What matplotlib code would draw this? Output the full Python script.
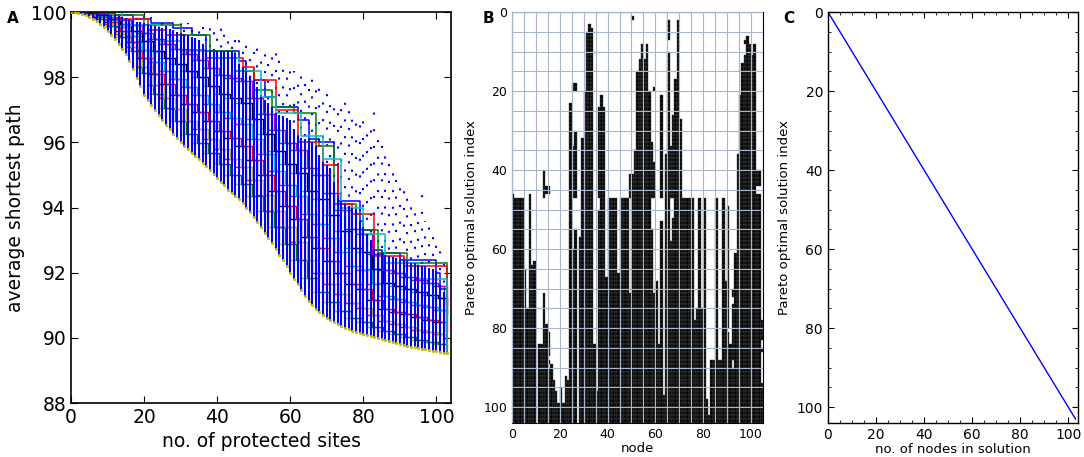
import numpy as np
import matplotlib
matplotlib.use("Agg")
import matplotlib.pyplot as plt
from matplotlib.patches import Rectangle
from matplotlib.collections import PatchCollection

# ---------------- Panel A data ----------------
sites = list(range(104))
# lower edge of the cloud (Pareto front)
lower = [100.0, 99.99, 99.97, 99.94, 99.9, 99.85, 99.79, 99.72, 99.64, 99.55,
         99.42, 99.3, 99.17, 99.03, 98.88, 98.7, 98.5, 98.25, 97.98, 97.72,
         97.47, 97.3, 97.14, 96.98, 96.83, 96.68, 96.54, 96.4, 96.26, 96.13,
         96.0, 95.9, 95.79, 95.69, 95.59, 95.49, 95.38, 95.27, 95.15, 95.03,
         94.92, 94.8, 94.68, 94.55, 94.45, 94.36, 94.27, 94.14, 94.0, 93.85,
         93.7, 93.55, 93.39, 93.22, 93.06, 92.9, 92.73, 92.55, 92.38, 92.2,
         92.0, 91.82, 91.64, 91.46, 91.28, 91.12, 91.0, 90.9, 90.8, 90.71,
         90.62, 90.55, 90.49, 90.43, 90.37, 90.31, 90.26, 90.22, 90.18, 90.15,
         90.12, 90.08, 90.05, 90.02, 89.99, 89.96, 89.93, 89.9, 89.87, 89.84,
         89.81, 89.78, 89.75, 89.73, 89.71, 89.69, 89.67, 89.65, 89.63, 89.61,
         89.59, 89.57, 89.55, 89.53]
# top of the dense blue band
upper = [100.0, 100.0, 100.0, 100.0, 99.99, 99.98, 99.97, 99.96, 99.95, 99.94,
         99.93, 99.92, 99.9, 99.88, 99.85, 99.82, 99.8, 99.75, 99.7, 99.68,
         99.65, 99.62, 99.6, 99.57, 99.55, 99.52, 99.5, 99.47, 99.44, 99.4,
         99.37, 99.33, 99.3, 99.25, 99.2, 99.15, 99.0, 98.85, 98.83, 98.82,
         98.8, 98.8, 98.8, 98.8, 98.8, 98.75, 98.4, 98.3, 98.2, 98.0,
         97.9, 97.7, 97.4, 97.3, 97.2, 97.1, 96.9, 96.85, 96.8, 96.75,
         96.7, 96.4, 96.2, 96.15, 96.1, 96.05, 96.0, 95.9, 95.6, 95.4,
         95.3, 95.2, 94.8, 94.4, 94.2, 94.1, 94.05, 94.0, 93.95, 93.6,
         93.4, 93.2, 93.0, 92.7, 92.6, 92.6, 92.55, 92.5, 92.45, 92.45,
         92.4, 92.4, 92.35, 92.3, 92.3, 92.25, 92.2, 92.2, 92.15, 92.1,
         92.05, 91.6, 91.4, 89.53]
# highest scattered single solutions per site count
dot_top = [100.0, 100.0, 100.0, 100.0, 99.99, 99.98, 99.97, 99.96, 99.95, 99.94,
           99.93, 99.92, 99.9, 99.88, 99.85, 99.95, 99.95, 99.95, 99.9, 99.9,
           99.9, 99.9, 99.85, 99.85, 99.8, 99.8, 99.8, 99.75, 99.75, 99.7,
           99.7, 99.7, 99.65, 99.65, 99.6, 99.6, 99.55, 99.6, 99.55, 99.5,
           99.6, 99.55, 99.45, 99.4, 99.3, 99.5, 99.3, 99.2, 99.1, 99.0,
           99.0, 98.95, 98.9, 98.85, 98.8, 98.8, 98.75, 98.6, 98.5, 98.4,
           98.3, 98.2, 98.0, 98.05, 98.0, 97.9, 98.2, 97.8, 97.7, 97.6,
           97.6, 97.4, 97.3, 97.2, 97.1, 97.3, 97.0, 96.9, 96.8, 96.8,
           96.9, 96.6, 96.4, 97.2, 96.4, 96.0, 95.6, 95.5, 95.3, 95.2,
           95.0, 94.8, 94.6, 94.4, 93.9, 93.8, 94.4, 93.6, 93.5, 93.2,
           92.9, 92.8, 92.6, 89.53]

# staircase fronts of individual runs inside the band: break x and level y
step_x = [0, 3, 6, 9, 12, 15, 18, 21, 24, 27, 30, 33, 36, 39, 42, 45, 48, 51,
          54, 57, 60, 63, 66, 69, 72, 75, 78, 81, 84, 87, 90, 93, 96, 99, 102]
step_x_late = [0, 4.5, 7.5, 10.5, 13.5, 16.5, 19.5, 22.5, 25.5, 28.5, 31.5, 34.5,
               37.5, 40.5, 43.5, 46.5, 49.5, 52.5, 55.5, 58.5, 61.5, 64.5, 67.5,
               70.5, 73.5, 76.5, 79.5, 82.5, 85.5, 88.5, 91.5, 94.5, 97.5, 100.5, 103]
levels = [
    [100, 99.94, 99.80, 99.58, 99.23, 98.79, 98.12, 97.49, 97.05, 96.65, 96.27, 95.97,
     95.67, 95.33, 95.01, 94.71, 94.34, 93.88, 93.39, 92.89, 92.38, 91.84, 91.4, 91.09,
     90.83, 90.61, 90.48, 90.33, 90.2, 90.11, 90.02, 89.94, 89.87, 89.81, 89.7],
    [100, 99.95, 99.83, 99.63, 99.32, 98.92, 98.32, 97.76, 97.37, 97.01, 96.67, 96.4,
     96.1, 95.79, 95.5, 95.24, 94.84, 94.38, 93.89, 93.41, 92.94, 92.4, 92.0, 91.65,
     91.35, 91.07, 90.93, 90.7, 90.51, 90.42, 90.33, 90.24, 90.18, 90.11, 89.92],
    [100, 99.96, 99.85, 99.69, 99.43, 99.09, 98.58, 98.11, 97.78, 97.47, 97.18, 96.94,
     96.65, 96.36, 96.12, 95.9, 95.47, 95.0, 94.51, 94.06, 93.65, 93.1, 92.75, 92.35,
     92.0, 91.64, 91.5, 91.17, 90.9, 90.81, 90.72, 90.63, 90.56, 90.48, 90.2],
    [100, 99.97, 99.88, 99.75, 99.54, 99.26, 98.84, 98.46, 98.19, 97.94, 97.69, 97.47,
     97.19, 96.93, 96.74, 96.56, 96.1, 95.63, 95.13, 94.7, 94.35, 93.81, 93.5, 93.06,
     92.65, 92.2, 92.07, 91.64, 91.3, 91.2, 91.11, 91.02, 90.94, 90.86, 90.48],
    [100, 99.98, 99.91, 99.8, 99.64, 99.43, 99.1, 98.81, 98.6, 98.4, 98.19, 98.0,
     97.73, 97.49, 97.36, 97.21, 96.73, 96.25, 95.75, 95.35, 95.06, 94.51, 94.25, 93.76,
     93.29, 92.77, 92.63, 92.11, 91.69, 91.59, 91.49, 91.4, 91.31, 91.23, 90.75],
    [100, 99.99, 99.93, 99.86, 99.75, 99.6, 99.36, 99.16, 99.01, 98.86, 98.7, 98.54,
     98.28, 98.06, 97.98, 97.87, 97.36, 96.87, 96.37, 95.99, 95.76, 95.21, 95.0, 94.46,
     93.94, 93.34, 93.2, 92.58, 92.08, 91.98, 91.88, 91.79, 91.69, 91.6, 91.03],
]
level_colors = ["y", "r", "k", "m", "c", "g"]
level_colors_late = ["g", "y", "r", "c", "k", "m"]

# outer staircases seen against the white area
outer_stairs = [
    ("b", [0, 6, 12, 17, 22, 28, 33, 37, 46, 48, 50, 53, 56, 62, 65, 68, 72, 73, 79, 80, 83, 85, 90, 100, 101, 103],
          [100, 99.97, 99.9, 99.8, 99.65, 99.5, 99.3, 98.8, 98.5, 98.2, 97.9, 97.4, 97.1, 96.7, 96.1, 96.0, 95.3, 94.2, 93.6, 93.3, 92.7, 92.6, 92.4, 92.0, 91.5, 89.53]),
    ("g", [0, 10, 20, 30, 38, 45, 50, 55, 61, 67, 72, 78, 80, 84, 92, 103],
          [100, 99.9, 99.6, 99.3, 98.8, 98.2, 97.6, 97.1, 96.9, 95.9, 94.1, 93.8, 93.3, 92.6, 92.3, 89.53]),
    ("r", [0, 12, 21, 26, 31, 37, 47, 50, 56, 62, 68, 69, 73, 77, 83, 91, 103],
          [100, 99.8, 99.45, 99.3, 98.85, 98.6, 98.3, 97.9, 97.0, 96.0, 95.9, 95.3, 94.1, 93.8, 92.5, 92.2, 89.53]),
    ("c", [0, 14, 24, 30, 38, 46, 52, 56, 63, 69, 74, 80, 86, 95, 103],
          [100, 99.6, 99.1, 98.8, 98.6, 98.2, 97.4, 96.9, 96.2, 95.5, 94.0, 93.2, 92.3, 91.8, 89.53]),
]

# ---------------- Panel B data ----------------
n_solutions = 104
# first solution index in which each node is protected (104 = never)
node_start = [46, 47, 47, 47, 47, 65, 75, 46, 64, 63,
              104, 84, 84, 71, 79, 81, 89, 93, 96, 99,
              95, 99, 92, 93, 23, 34, 30, 104, 57, 32,
              20, 5, 3, 4, 84, 96, 24, 21, 24, 67,
              47, 47, 47, 47, 66, 47, 47, 47, 47, 41,
              41, 35, 15, 12, 8, 12, 8, 20, 33, 38,
              68, 84, 21, 97, 36, 2, 34, 26, 17, 2,
              27, 47, 47, 47, 47, 47, 78, 75, 47, 75,
              47, 98, 102, 88, 88, 47, 88, 88, 47, 68,
              49, 84, 70, 61, 36, 21, 13, 11, 6, 8,
              11, 8, 40, 40, 78]
# solutions where a node drops out again (white holes)
node_gaps = {15: [(87, 88), (89, 90)], 25: [(47, 60)], 26: [(47, 55)], 36: [(47, 50)],
             49: [(47, 71)], 58: [(47, 55)], 59: [(47, 71)], 62: [(47, 53)],
             65: [(7, 10)], 66: [(47, 58)], 67: [(47, 52)], 90: [(80, 81)],
             92: [(72, 74), (88, 90)], 102: [(44, 46)], 103: [(44, 46)],
             104: [(83, 85), (86, 94)]}
# isolated early appearances (black specks)
node_islands = {13: [(40, 47)], 14: [(44, 46)], 15: [(44, 46)], 25: [(18, 20)],
                26: [(18, 20)], 50: [(1, 2)], 59: [(19, 20)], 97: [(7, 8)]}

# ---------------- Panel C data ----------------
solution_index = np.arange(n_solutions)
nodes_in_solution = solution_index.copy()  # solution i protects i nodes

plt.rcParams['font.family'] = ['DejaVu Sans']
plt.rcParams['xtick.direction'] = 'in'
plt.rcParams['ytick.direction'] = 'in'
plt.rcParams['xtick.top'] = True
plt.rcParams['ytick.right'] = True

fig = plt.figure(figsize=(10.84, 4.57), dpi=100)

# ---- A ----
axA = fig.add_axes([0.0655, 0.118, 0.3506, 0.8556])
# dotted columns for the scattered solutions, dash offsets varied so rows do not line up
offsets = [0, 3.1, 6.3, 1.2, 4.4, 7.0, 2.8, 5.6, 1.7, 4.9, 0.4, 3.5, 6.6]
dot_styles = [(offsets[i % len(offsets)], (1.0, 7.0)) for i in range(len(sites))]
axA.vlines(sites, upper, dot_top, colors='b', linestyles=dot_styles, lw=1.5, zorder=1)
for col, sy in zip(level_colors, levels):
    axA.step(step_x, sy, where='post', color=col, lw=1.0, zorder=2)
for col, sy in zip(level_colors_late, levels):
    axA.step(step_x_late, sy, where='post', color=col, lw=1.0, zorder=2)
for col, sx, sy in outer_stairs:
    axA.step(sx, sy, where='post', color=col, lw=1.1, zorder=2)
# blue risers of the last run drawn on top
axA.vlines(sites, lower, upper, colors='b', lw=1.5, zorder=3)
axA.plot(sites, lower, ls='none', marker='.', ms=2.5, color='y', zorder=4)
axA.set_xlim(0, 104)
axA.set_ylim(88, 100)
axA.set_xticks([0, 20, 40, 60, 80, 100])
axA.set_yticks([88, 90, 92, 94, 96, 98, 100])
axA.tick_params(labelsize=13.5, length=5, width=0.8)
axA.set_xlabel("no. of protected sites", fontsize=13.5)
axA.set_ylabel("average shortest path", fontsize=13.5, labelpad=4)
for s in axA.spines.values():
    s.set_linewidth(1.2)

# ---- B ----
M = np.zeros((n_solutions, len(node_start)))
for j, s in enumerate(node_start):
    M[s:, j] = 1
for j, gl in node_gaps.items():
    for r0, r1 in gl:
        M[r0:r1, j] = 0
for j, il in node_islands.items():
    for r0, r1 in il:
        M[r0:r1, j] = 1

axB = fig.add_axes([0.4723, 0.0744, 0.2315, 0.8993])
rows, cols = np.nonzero(M)
cells = [Rectangle((c, r), 1, 1) for r, c in zip(rows, cols)]
axB.add_collection(PatchCollection(cells, facecolor='black', edgecolor='#4a4a4a',
                                   linewidth=0.3, zorder=1))
axB.set_xlim(0, 105)
axB.set_ylim(104, 0)
axB.set_xticks([0, 20, 40, 60, 80, 100])
axB.set_yticks([0, 20, 40, 60, 80, 100])
axB.set_xticks(np.arange(0, 106, 5), minor=True)
axB.set_yticks(np.arange(0, 105, 5), minor=True)
axB.set_axisbelow(False)
axB.grid(which='both', color='#a7b6c8', lw=0.8, zorder=2)
axB.tick_params(which='both', length=0, labelsize=9)
axB.set_xlabel("node", fontsize=9.5, labelpad=1)
axB.set_ylabel("Pareto optimal solution index", fontsize=9.5)
for s in axB.spines.values():
    s.set_linewidth(0.8)

# ---- C ----
axC = fig.add_axes([0.7638, 0.0744, 0.2306, 0.8993])
axC.plot(nodes_in_solution, solution_index, color='b', lw=1.0)
axC.set_xlim(0, 104)
axC.set_ylim(104, 0)
axC.set_xticks([0, 20, 40, 60, 80, 100])
axC.set_yticks([0, 20, 40, 60, 80, 100])
axC.set_xticks(np.arange(0, 105, 5), minor=True)
axC.set_yticks(np.arange(0, 105, 5), minor=True)
axC.tick_params(which='major', length=4, labelsize=10)
axC.tick_params(which='minor', length=2)
axC.set_xlabel("no. of nodes in solution", fontsize=9.5, labelpad=1)
axC.set_ylabel("Pareto optimal solution index", fontsize=9.5)
for s in axC.spines.values():
    s.set_linewidth(1.0)

fig.text(0.006, 0.975, "A", fontsize=11, fontweight='bold', va='top')
fig.text(0.445, 0.975, "B", fontsize=11, fontweight='bold', va='top')
fig.text(0.723, 0.975, "C", fontsize=11, fontweight='bold', va='top')

fig.savefig("out.png", dpi=100)
